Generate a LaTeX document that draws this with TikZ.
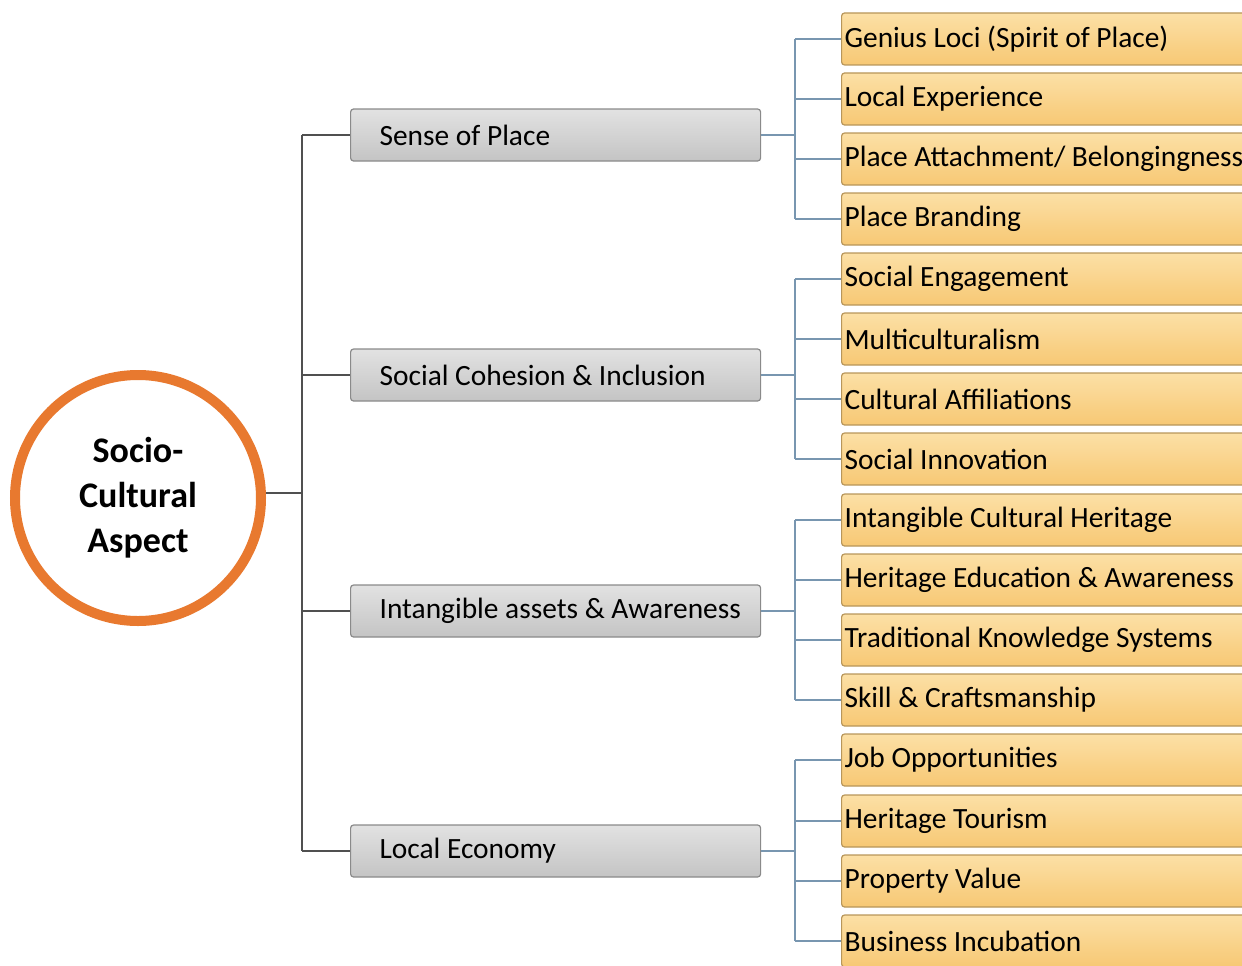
\documentclass[tikz,border=0pt]{standalone}
\usepackage{fontspec}
\setmainfont{Carlito}
\usetikzlibrary{positioning}
% natural font interword spacing inside ragged boxes
\newcommand{\natsp}{\spaceskip=0pt\xspaceskip=0pt\relax}
\begin{document}
\begin{tikzpicture}[x=1pt,y=-1pt,
  hub/.style={circle, draw=hubline, line width=10pt, fill=white, minimum size=246pt,
    align=center, font=\fontsize{36}{45}\selectfont\bfseries, inner sep=0pt},
  catbox/.style={draw=catline, line width=1.2pt, rounded corners=3pt,
    top color=catTop, bottom color=catBot, minimum width=410pt, minimum height=52pt,
    anchor=west, text width=410pt, align=left, inner xsep=0pt,
    font=\fontsize{29.4}{32}\selectfont},
  leafbox/.style={draw=leafline, line width=1.2pt, rounded corners=3pt,
    top color=leafTop, bottom color=leafBot, minimum width=430pt, minimum height=52pt,
    anchor=west, text width=430pt, align=left, inner xsep=0pt,
    font=\fontsize{29.4}{32}\selectfont},
  trunk/.style={draw=trunkline, line width=2pt},
  twig/.style={draw=twigline, line width=1.4pt}
]
\definecolor{hubline}{HTML}{E8792F}
\definecolor{catline}{HTML}{8A8A8A}
\definecolor{catTop}{HTML}{E2E2E2}
\definecolor{catBot}{HTML}{C4C4C4}
\definecolor{leafline}{HTML}{B8965A}
\definecolor{leafTop}{HTML}{FCE0A6}
\definecolor{leafBot}{HTML}{F7C874}
\definecolor{trunkline}{HTML}{505050}
\definecolor{twigline}{HTML}{7896B0}

\useasboundingbox (0,0) rectangle (1242,966);
\clip (0,0) rectangle (1242,966);

% central topic
\node[hub] (hub) at (138,498) {Socio-\\Cultural\\Aspect};

% trunk from the hub to the four categories
\coordinate (tj) at (302,493);
\coordinate (t1) at (302,135);
\coordinate (t2) at (302,375);
\coordinate (t3) at (302,611);
\coordinate (t4) at (302,851);
\draw[trunk] (hub.east |- tj) -- (tj);
\draw[trunk] (t1) -- (t4);

% categories
\node[catbox] (c1) at (350,135) {\natsp\hspace*{29pt}Sense of Place};
\node[catbox] (c2) at (350,375) {\natsp\hspace*{29pt}Social Cohesion \& Inclusion};
\node[catbox] (c3) at (350,611) {\natsp\hspace*{29pt}Intangible assets \& Awareness};
\node[catbox] (c4) at (350,851) {\natsp\hspace*{29pt}Local Economy};
\foreach \i in {1,...,4} { \draw[trunk] (t\i) -- (c\i.west); }

% leaves
\foreach \n/\y/\t in {
  1/39/{Genius Loci (Spirit of Place)},
  2/99/{Local Experience},
  3/159/{Place Attachment/ Belongingness},
  4/219/{Place Branding},
  5/279/{Social Engagement},
  6/339/{Multiculturalism},
  7/399/{Cultural Affiliations},
  8/459/{Social Innovation},
  9/520/{Intangible Cultural Heritage},
  10/580/{Heritage Education \& Awareness},
  11/640/{Traditional Knowledge Systems},
  12/700/{Skill \& Craftsmanship},
  13/760/{Job Opportunities},
  14/821/{Heritage Tourism},
  15/881/{Property Value},
  16/941/{Business Incubation}}
{
  \node[leafbox] (l\n) at (841,\y) {\natsp\hspace*{3pt}\t};
  \coordinate (b\n) at (795,\y);
  \draw[twig] (b\n) -- (l\n.west);
}

% category-to-leaf brackets
\foreach \c/\a/\b in {1/1/4, 2/5/8, 3/9/12, 4/13/16} {
  \draw[twig] (b\a) -- (b\b);
  \draw[twig] (c\c.east) -- (b\a |- c\c.east);
}
\end{tikzpicture}
\end{document}
